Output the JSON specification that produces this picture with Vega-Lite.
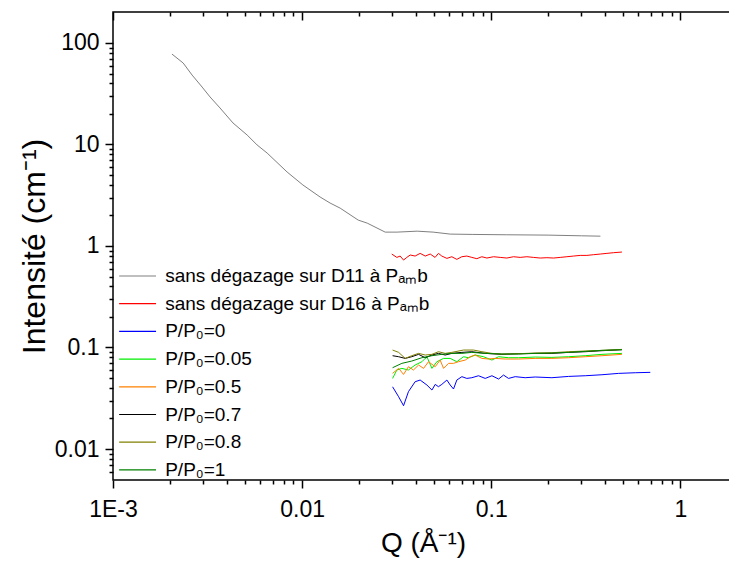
{
"$schema": "https://vega.github.io/schema/vega-lite/v6.json",
"width": 620, "height": 468,
"autosize": "none",
"padding": {"left": 113, "top": 12, "right": 0, "bottom": 83},
"background": "white",
"config": {
  "font": "Liberation Sans",
  "view": {"stroke": "black", "strokeWidth": 1.5},
  "axis": {"grid": false, "domain": false, "tickColor": "black", "tickWidth": 1.5, "labelColor": "black", "titleColor": "black", "labelFont": "Liberation Sans", "titleFont": "Liberation Sans", "titleFontWeight": "normal", "labelFontSize": 23, "titleFontSize": 28}
},
"data": {"values": [
{"s":"a","q":0.00205,"i":77.8},{"s":"a","q":0.00235,"i":63.5},{"s":"a","q":0.00262,"i":48.3},{"s":"a","q":0.00296,"i":36.8},{"s":"a","q":0.00326,"i":29.4},{"s":"a","q":0.00368,"i":22.9},{"s":"a","q":0.00431,"i":16.3},{"s":"a","q":0.00512,"i":12.4},{"s":"a","q":0.00578,"i":9.9},{"s":"a","q":0.00653,"i":8.24},{"s":"a","q":0.00833,"i":5.36},{"s":"a","q":0.0101,"i":3.99},{"s":"a","q":0.01245,"i":3.04},{"s":"a","q":0.01406,"i":2.65},{"s":"a","q":0.0159,"i":2.36},{"s":"a","q":0.0198,"i":1.80},{"s":"a","q":0.0221,"i":1.68},{"s":"a","q":0.0275,"i":1.37},{"s":"a","q":0.0318,"i":1.37},{"s":"a","q":0.0406,"i":1.40},{"s":"a","q":0.0493,"i":1.37},{"s":"a","q":0.0607,"i":1.31},{"s":"a","q":0.08,"i":1.30},{"s":"a","q":0.12,"i":1.29},{"s":"a","q":0.2,"i":1.28},{"s":"a","q":0.3,"i":1.26},{"s":"a","q":0.378,"i":1.25},
{"s":"b","q":0.0298,"i":0.833},{"s":"b","q":0.0317,"i":0.772},{"s":"b","q":0.0330,"i":0.796},{"s":"b","q":0.0344,"i":0.727},{"s":"b","q":0.0358,"i":0.772},{"s":"b","q":0.0373,"i":0.815},{"s":"b","q":0.0396,"i":0.796},{"s":"b","q":0.0421,"i":0.846},{"s":"b","q":0.0448,"i":0.796},{"s":"b","q":0.0476,"i":0.833},{"s":"b","q":0.0505,"i":0.772},{"s":"b","q":0.0526,"i":0.846},{"s":"b","q":0.0548,"i":0.796},{"s":"b","q":0.0583,"i":0.755},{"s":"b","q":0.0619,"i":0.784},{"s":"b","q":0.0658,"i":0.738},{"s":"b","q":0.0699,"i":0.784},{"s":"b","q":0.0743,"i":0.796},{"s":"b","q":0.0790,"i":0.772},{"s":"b","q":0.0840,"i":0.750},{"s":"b","q":0.0892,"i":0.784},{"s":"b","q":0.0949,"i":0.761},{"s":"b","q":0.1029,"i":0.784},{"s":"b","q":0.1116,"i":0.772},{"s":"b","q":0.1210,"i":0.761},{"s":"b","q":0.1313,"i":0.784},{"s":"b","q":0.1423,"i":0.772},{"s":"b","q":0.1544,"i":0.784},{"s":"b","q":0.1675,"i":0.772},{"s":"b","q":0.1817,"i":0.761},{"s":"b","q":0.1970,"i":0.767},{"s":"b","q":0.2137,"i":0.761},{"s":"b","q":0.2318,"i":0.772},{"s":"b","q":0.2514,"i":0.784},{"s":"b","q":0.2727,"i":0.796},{"s":"b","q":0.2957,"i":0.808},{"s":"b","q":0.3208,"i":0.808},{"s":"b","q":0.3479,"i":0.821},{"s":"b","q":0.3773,"i":0.833},{"s":"b","q":0.4093,"i":0.846},{"s":"b","q":0.4439,"i":0.859},{"s":"b","q":0.4914,"i":0.872},
{"s":"p0","q":0.0301,"i":0.0410},{"s":"p0","q":0.0324,"i":0.0327},{"s":"p0","q":0.0344,"i":0.0267},{"s":"p0","q":0.0365,"i":0.0367},{"s":"p0","q":0.0396,"i":0.0460},{"s":"p0","q":0.0421,"i":0.0478},{"s":"p0","q":0.0457,"i":0.0427},{"s":"p0","q":0.0486,"i":0.0381},{"s":"p0","q":0.0506,"i":0.0433},{"s":"p0","q":0.0526,"i":0.0411},{"s":"p0","q":0.0548,"i":0.0433},{"s":"p0","q":0.0583,"i":0.0478},{"s":"p0","q":0.0607,"i":0.0427},{"s":"p0","q":0.0632,"i":0.0390},{"s":"p0","q":0.0658,"i":0.0478},{"s":"p0","q":0.0700,"i":0.0516},{"s":"p0","q":0.0743,"i":0.0496},{"s":"p0","q":0.0790,"i":0.0504},{"s":"p0","q":0.0857,"i":0.0527},{"s":"p0","q":0.0930,"i":0.0496},{"s":"p0","q":0.1009,"i":0.0527},{"s":"p0","q":0.1094,"i":0.0489},{"s":"p0","q":0.1162,"i":0.0535},{"s":"p0","q":0.1235,"i":0.0496},{"s":"p0","q":0.1340,"i":0.0516},{"s":"p0","q":0.1513,"i":0.0504},{"s":"p0","q":0.1709,"i":0.0512},{"s":"p0","q":0.2094,"i":0.0504},{"s":"p0","q":0.2566,"i":0.0519},{"s":"p0","q":0.3143,"i":0.0527},{"s":"p0","q":0.3852,"i":0.0539},{"s":"p0","q":0.4718,"i":0.0556},{"s":"p0","q":0.578,"i":0.0564},{"s":"p0","q":0.694,"i":0.0569},
{"s":"p005","q":0.0301,"i":0.0496},{"s":"p005","q":0.0317,"i":0.0600},{"s":"p005","q":0.0337,"i":0.0623},{"s":"p005","q":0.0365,"i":0.0600},{"s":"p005","q":0.0396,"i":0.0672},{"s":"p005","q":0.0430,"i":0.0724},{"s":"p005","q":0.0457,"i":0.0811},{"s":"p005","q":0.0486,"i":0.0623},{"s":"p005","q":0.0516,"i":0.0724},{"s":"p005","q":0.0560,"i":0.0781},{"s":"p005","q":0.0607,"i":0.0781},{"s":"p005","q":0.0658,"i":0.0724},{"s":"p005","q":0.0714,"i":0.0811},{"s":"p005","q":0.0759,"i":0.0793},{"s":"p005","q":0.0823,"i":0.0843},{"s":"p005","q":0.0911,"i":0.0811},{"s":"p005","q":0.1009,"i":0.0752},{"s":"p005","q":0.1094,"i":0.0811},{"s":"p005","q":0.1235,"i":0.0793},{"s":"p005","q":0.1396,"i":0.0793},{"s":"p005","q":0.1709,"i":0.0805},{"s":"p005","q":0.2094,"i":0.0799},{"s":"p005","q":0.2566,"i":0.0811},{"s":"p005","q":0.3143,"i":0.0830},{"s":"p005","q":0.3852,"i":0.0856},{"s":"p005","q":0.4914,"i":0.0875},
{"s":"p05","q":0.0301,"i":0.0556},{"s":"p05","q":0.0324,"i":0.0623},{"s":"p05","q":0.0344,"i":0.0543},{"s":"p05","q":0.0365,"i":0.0647},{"s":"p05","q":0.0388,"i":0.0600},{"s":"p05","q":0.0413,"i":0.0672},{"s":"p05","q":0.0439,"i":0.0623},{"s":"p05","q":0.0466,"i":0.0724},{"s":"p05","q":0.0506,"i":0.0647},{"s":"p05","q":0.0537,"i":0.0752},{"s":"p05","q":0.0560,"i":0.0623},{"s":"p05","q":0.0595,"i":0.0698},{"s":"p05","q":0.0632,"i":0.0698},{"s":"p05","q":0.0671,"i":0.0724},{"s":"p05","q":0.0729,"i":0.0752},{"s":"p05","q":0.0774,"i":0.0811},{"s":"p05","q":0.0823,"i":0.0843},{"s":"p05","q":0.0893,"i":0.0781},{"s":"p05","q":0.0968,"i":0.0770},{"s":"p05","q":0.1050,"i":0.0781},{"s":"p05","q":0.1186,"i":0.0770},{"s":"p05","q":0.1396,"i":0.0770},{"s":"p05","q":0.1709,"i":0.0781},{"s":"p05","q":0.2094,"i":0.0781},{"s":"p05","q":0.2566,"i":0.0793},{"s":"p05","q":0.3143,"i":0.0811},{"s":"p05","q":0.3852,"i":0.0830},{"s":"p05","q":0.4914,"i":0.0856},
{"s":"p07","q":0.0301,"i":0.0830},{"s":"p07","q":0.0324,"i":0.0811},{"s":"p07","q":0.0351,"i":0.0781},{"s":"p07","q":0.0380,"i":0.0811},{"s":"p07","q":0.0413,"i":0.0856},{"s":"p07","q":0.0448,"i":0.0793},{"s":"p07","q":0.0486,"i":0.0843},{"s":"p07","q":0.0526,"i":0.0875},{"s":"p07","q":0.0571,"i":0.0843},{"s":"p07","q":0.0619,"i":0.0875},{"s":"p07","q":0.0700,"i":0.0895},{"s":"p07","q":0.0790,"i":0.0909},{"s":"p07","q":0.0930,"i":0.0875},{"s":"p07","q":0.1139,"i":0.0856},{"s":"p07","q":0.1396,"i":0.0869},{"s":"p07","q":0.1709,"i":0.0875},{"s":"p07","q":0.2094,"i":0.0875},{"s":"p07","q":0.2566,"i":0.0895},{"s":"p07","q":0.3143,"i":0.0909},{"s":"p07","q":0.3852,"i":0.0930},{"s":"p07","q":0.4914,"i":0.0951},
{"s":"p08","q":0.0301,"i":0.0944},{"s":"p08","q":0.0324,"i":0.0895},{"s":"p08","q":0.0351,"i":0.0781},{"s":"p08","q":0.0380,"i":0.0830},{"s":"p08","q":0.0413,"i":0.0875},{"s":"p08","q":0.0448,"i":0.0843},{"s":"p08","q":0.0486,"i":0.0856},{"s":"p08","q":0.0526,"i":0.0909},{"s":"p08","q":0.0571,"i":0.0875},{"s":"p08","q":0.0619,"i":0.0895},{"s":"p08","q":0.0714,"i":0.0944},{"s":"p08","q":0.0806,"i":0.0944},{"s":"p08","q":0.0893,"i":0.0909},{"s":"p08","q":0.1009,"i":0.0875},{"s":"p08","q":0.1139,"i":0.0862},{"s":"p08","q":0.1396,"i":0.0869},{"s":"p08","q":0.1709,"i":0.0882},{"s":"p08","q":0.2094,"i":0.0888},{"s":"p08","q":0.2566,"i":0.0909},{"s":"p08","q":0.3143,"i":0.0923},{"s":"p08","q":0.3852,"i":0.0937},{"s":"p08","q":0.4914,"i":0.0958},
{"s":"p1","q":0.0301,"i":0.0632},{"s":"p1","q":0.0337,"i":0.0698},{"s":"p1","q":0.0380,"i":0.0735},{"s":"p1","q":0.0430,"i":0.0793},{"s":"p1","q":0.0486,"i":0.0830},{"s":"p1","q":0.0548,"i":0.0856},{"s":"p1","q":0.0619,"i":0.0875},{"s":"p1","q":0.0700,"i":0.0875},{"s":"p1","q":0.0790,"i":0.0895},{"s":"p1","q":0.0930,"i":0.0875},{"s":"p1","q":0.1139,"i":0.0862},{"s":"p1","q":0.1396,"i":0.0862},{"s":"p1","q":0.1709,"i":0.0875},{"s":"p1","q":0.2094,"i":0.0882},{"s":"p1","q":0.2566,"i":0.0895},{"s":"p1","q":0.3143,"i":0.0916},{"s":"p1","q":0.3852,"i":0.0937},{"s":"p1","q":0.4914,"i":0.0951}
]},
"layer": [
 {
  "mark": {"type": "line", "strokeWidth": 1, "clip": true},
  "encoding": {
   "x": {"field": "q", "type": "quantitative", "title": "Q (Å⁻¹)",
     "scale": {"type": "log", "domain": [0.001, 1.9], "nice": false},
     "axis": {"orient": "bottom",
       "values": [0.001,0.002,0.003,0.004,0.005,0.006,0.007,0.008,0.009,0.01,0.02,0.03,0.04,0.05,0.06,0.07,0.08,0.09,0.1,0.2,0.3,0.4,0.5,0.6,0.7,0.8,0.9,1],
       "tickSize": {"condition": {"test": "abs(log(datum.value)/LN10 - round(log(datum.value)/LN10)) < 0.01", "value": 8}, "value": 4},
       "labelExpr": "abs(log(datum.value)/LN10 - round(log(datum.value)/LN10)) < 0.01 ? (datum.value < 0.005 ? '1E-3' : format(datum.value, '')) : ''",
       "labelPadding": 10, "labelFlush": false, "labelOverlap": false, "titlePadding": 8}},
   "y": {"field": "i", "type": "quantitative", "title": "Intensité (cm⁻¹)",
     "scale": {"type": "log", "domain": [0.00495, 202], "nice": false},
     "axis": {
       "values": [0.006,0.007,0.008,0.009,0.01,0.02,0.03,0.04,0.05,0.06,0.07,0.08,0.09,0.1,0.2,0.3,0.4,0.5,0.6,0.7,0.8,0.9,1,2,3,4,5,6,7,8,9,10,20,30,40,50,60,70,80,90,100],
       "tickSize": {"condition": {"test": "abs(log(datum.value)/LN10 - round(log(datum.value)/LN10)) < 0.01", "value": 8}, "value": 4},
       "labelExpr": "abs(log(datum.value)/LN10 - round(log(datum.value)/LN10)) < 0.01 ? format(datum.value, '') : ''",
       "labelPadding": 6, "labelOverlap": false, "labelFlush": false, "titlePadding": 3, "titleFontSize": 32}},
   "color": {"field": "s", "type": "nominal",
     "scale": {"domain": ["a","b","p0","p005","p05","p07","p08","p1"], "range": ["#808080","#ff0000","#0000ff","#00ee00","#ff8000","#000000","#808000","#008000"]},
     "legend": {"orient": "none", "legendX": 10.6, "legendY": 250, "title": null, "padding": 0,
       "symbolType": "M-1.43,0H1.43", "symbolSize": 666, "symbolStrokeWidth": 1.2,
       "labelFontSize": 19, "labelFont": "Liberation Sans", "labelColor": "black", "labelOffset": 13.6, "rowPadding": 3.7, "labelLimit": 400,
       "labelExpr": "{'a': 'sans dégazage sur D11 à Pₐₘb', 'b': 'sans dégazage sur D16 à Pₐₘb', 'p0': 'P/P₀=0', 'p005': 'P/P₀=0.05', 'p05': 'P/P₀=0.5', 'p07': 'P/P₀=0.7', 'p08': 'P/P₀=0.8', 'p1': 'P/P₀=1'}[datum.value]"}}
  }
 },
 {
  "mark": {"type": "line", "opacity": 0},
  "encoding": {
   "x": {"field": "q", "type": "quantitative",
     "axis": {"orient": "top", "title": null, "labels": false,
       "values": [0.001,0.002,0.003,0.004,0.005,0.006,0.007,0.008,0.009,0.01,0.02,0.03,0.04,0.05,0.06,0.07,0.08,0.09,0.1,0.2,0.3,0.4,0.5,0.6,0.7,0.8,0.9,1],
       "tickSize": {"condition": {"test": "abs(log(datum.value)/LN10 - round(log(datum.value)/LN10)) < 0.01", "value": -8}, "value": -4}}},
   "y": {"field": "i", "type": "quantitative"},
   "detail": {"field": "s"}
  }
 }
],
"resolve": {"axis": {"x": "independent"}}
}
